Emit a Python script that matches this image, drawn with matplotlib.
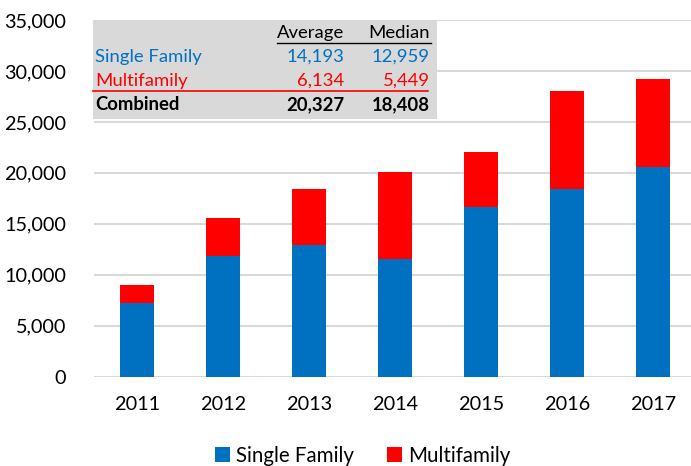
import matplotlib.pyplot as plt
from matplotlib.patches import Rectangle
from matplotlib.ticker import FuncFormatter

plt.rcParams['font.family'] = ['Lato', 'DejaVu Sans']

# Data
years = ['2011', '2012', '2013', '2014', '2015', '2016', '2017']
single_family = [7250, 11880, 12959, 11580, 16630, 18440, 20600]
multifamily = [1770, 3736, 5449, 8460, 5410, 9570, 8600]

table_cols = ['Average', 'Median']
table_rows = ['Single Family', 'Multifamily', 'Combined']
table_vals = [['14,193', '12,959'], ['6,134', '5,449'], ['20,327', '18,408']]

blue = '#0070C0'
red = '#FF0000'
W, H = 691, 466

fig = plt.figure(figsize=(W / 100, H / 100), dpi=100)
ax = fig.add_axes([94 / W, 1 - 376.7 / H, (W - 94) / W, (376.7 - 20) / H])

x = range(len(years))
ax.bar(x, single_family, width=0.4, color=blue, label='Single Family', zorder=3)
ax.bar(x, multifamily, width=0.4, bottom=single_family, color=red,
       label='Multifamily', zorder=3)

ax.set_ylim(0, 35000)
ax.set_xlim(-0.5, 6.44)
ax.set_yticks(range(0, 35001, 5000))
ax.yaxis.set_major_formatter(FuncFormatter(lambda v, p: f'{int(v):,}'))
ax.set_xticks(list(x))
ax.set_xticklabels(years)
ax.grid(axis='y', color='#D9D9D9', linewidth=1.5, zorder=0)
for s in ax.spines.values():
    s.set_visible(False)
ax.tick_params(length=0, labelsize=14.3, colors='black')
ax.tick_params(axis='y', pad=20)
ax.tick_params(axis='x', pad=14)

# summary table in grey box
def fx(px):
    return px / W

def fy(py):
    return 1 - py / H

ax.add_patch(Rectangle((fx(93), fy(119)), fx(437) - fx(93), fy(20) - fy(119),
                       transform=fig.transFigure, facecolor='#D9D9D9',
                       edgecolor='none', clip_on=False, zorder=4))

col_x = [344, 430]
row_y = [57, 81, 105]
row_colors = [blue, red, 'black']
fs = 13.3
for cx, name in zip(col_x, table_cols):
    fig.text(fx(cx), fy(33), name, ha='right', va='center', fontsize=fs, zorder=5)
ax.plot([fx(277), fx(431)], [fy(43), fy(43)], color='black', lw=1,
        transform=fig.transFigure, clip_on=False, zorder=5)
for ry, name, vals, c in zip(row_y, table_rows, table_vals, row_colors):
    weight = 'bold' if name == 'Combined' else 'normal'
    fig.text(fx(95), fy(ry), name, ha='left', va='center', fontsize=fs,
             color=c, fontweight=weight, zorder=5)
    for cx, v in zip(col_x, vals):
        fig.text(fx(cx), fy(ry), v, ha='right', va='center', fontsize=fs,
                 color=c, fontweight=weight, zorder=5)
ax.plot([fx(93), fx(428)], [fy(91), fy(91)], color=red, lw=1.2,
        transform=fig.transFigure, clip_on=False, zorder=5)

fig.legend(loc='center', bbox_to_anchor=(0.525, fy(456)), ncol=2, frameon=False,
           fontsize=14.8, handlelength=0.75, handleheight=0.75, handletextpad=0.3,
           columnspacing=1.6)

fig.savefig('out.png', dpi=100)
